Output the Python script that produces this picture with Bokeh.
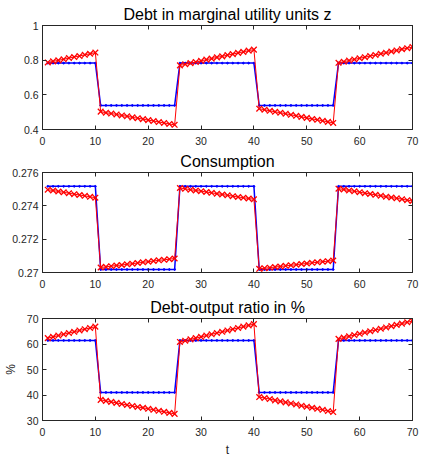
from bokeh.plotting import figure
from bokeh.layouts import column
from bokeh.models import FixedTicker, CustomJSTickFormatter, Range1d, LinearAxis
from bokeh.embed import file_html
from bokeh.resources import INLINE

t = list(range(1, 71))

# Debt in marginal utility units z
z_blue = [0.783] * 10 + [0.539] * 15 + [0.783] * 15 + [0.539] * 15 + [0.783] * 15
z_red = [0.787, 0.793, 0.799, 0.805, 0.812, 0.818, 0.824, 0.831, 0.837, 0.844,
         0.503, 0.497, 0.492, 0.487, 0.481, 0.476, 0.470, 0.465, 0.460, 0.454,
         0.449, 0.443, 0.438, 0.432, 0.427,
         0.770, 0.776, 0.783, 0.789, 0.796, 0.803, 0.809, 0.816, 0.822, 0.829,
         0.835, 0.842, 0.848, 0.855, 0.861,
         0.520, 0.514, 0.508, 0.502, 0.497, 0.491, 0.485, 0.479, 0.473, 0.467,
         0.461, 0.456, 0.450, 0.444, 0.438,
         0.785, 0.791, 0.798, 0.804, 0.811, 0.817, 0.824, 0.830, 0.837, 0.843,
         0.850, 0.856, 0.863, 0.869, 0.876]

# Consumption
c_blue = [0.27517] * 10 + [0.27018] * 15 + [0.27517] * 15 + [0.27018] * 15 + [0.27517] * 15
c_red = [0.27497, 0.27492, 0.27486, 0.27481, 0.27476, 0.27470, 0.27465, 0.27460, 0.27454, 0.27449,
         0.27030, 0.27034, 0.27038, 0.27042, 0.27045, 0.27049, 0.27053, 0.27057, 0.27061, 0.27065,
         0.27069, 0.27073, 0.27076, 0.27080, 0.27084,
         0.27507, 0.27502, 0.27497, 0.27492, 0.27488, 0.27483, 0.27478, 0.27473, 0.27468, 0.27463,
         0.27458, 0.27453, 0.27449, 0.27444, 0.27439,
         0.27022, 0.27026, 0.27029, 0.27033, 0.27036, 0.27040, 0.27043, 0.27047, 0.27051, 0.27054,
         0.27058, 0.27061, 0.27065, 0.27068, 0.27072,
         0.27503, 0.27498, 0.27492, 0.27487, 0.27482, 0.27476, 0.27471, 0.27466, 0.27461, 0.27455,
         0.27450, 0.27445, 0.27440, 0.27434, 0.27429]

# Debt-output ratio in %
d_blue = [61.4] * 10 + [41.0] * 15 + [61.4] * 15 + [41.0] * 15 + [61.4] * 15
d_red = [62.3, 62.8, 63.3, 63.8, 64.3, 64.8, 65.3, 65.8, 66.3, 66.8,
         38.1, 37.7, 37.3, 36.9, 36.5, 36.1, 35.7, 35.3, 35.0, 34.6,
         34.2, 33.8, 33.4, 33.0, 32.6,
         60.8, 61.3, 61.8, 62.3, 62.8, 63.3, 63.8, 64.3, 64.8, 65.3,
         65.8, 66.3, 66.8, 67.3, 67.8,
         39.2, 38.8, 38.4, 37.9, 37.5, 37.1, 36.7, 36.3, 35.8, 35.4,
         35.0, 34.6, 34.2, 33.7, 33.3,
         62.0, 62.5, 63.0, 63.5, 64.0, 64.5, 65.0, 65.5, 66.0, 66.5,
         67.0, 67.5, 68.0, 68.5, 69.0]

x_ticks = [0, 10, 20, 30, 40, 50, 60, 70]
z_ticks = [0.4, 0.6, 0.8, 1]
c_ticks = [0.27, 0.272, 0.274, 0.276]
d_ticks = [30, 40, 50, 60, 70]

FONT = "Liberation Sans"
AX = "#262626"
fmt_js = "return tick.toString();"


def style_axis(ax, ticks, labels=True):
    ax.ticker = FixedTicker(ticks=ticks)
    ax.axis_line_color = AX
    ax.major_tick_line_color = AX
    ax.major_tick_in = 4
    ax.major_tick_out = 0
    ax.minor_tick_line_color = None
    ax.major_label_text_font = FONT
    ax.major_label_text_color = AX
    if labels:
        ax.major_label_text_font_size = "10.5px"
        ax.formatter = CustomJSTickFormatter(code=fmt_js)
    else:
        ax.major_label_text_font_size = "0px"
        ax.major_label_standoff = 0
        ax.formatter = CustomJSTickFormatter(code="return '';")


def make(title, yb, yr, yrange, yticks, h, top, bottom, xlabel=None, ylabel=None):
    xa = LinearAxis()
    ya = LinearAxis()
    p = figure(width=421, height=h, x_range=Range1d(0, 70), y_range=Range1d(*yrange),
               toolbar_location=None, output_backend="svg",
               x_axis_location=None, y_axis_location=None,
               min_border_left=42, min_border_right=9,
               min_border_top=top, min_border_bottom=bottom)
    p.title.text = title
    p.title.align = "center"
    p.title.text_font = FONT
    p.title.text_font_size = "16px"
    p.title.text_font_style = "normal"
    p.title.text_color = "#000000"
    p.title.standoff = 5
    p.outline_line_color = AX
    p.outline_line_alpha = 1
    p.grid.visible = False
    p.background_fill_color = "white"
    p.border_fill_color = "white"
    style_axis(xa, x_ticks)
    style_axis(ya, yticks)
    xa.major_label_standoff = 7
    ya.major_label_standoff = 4
    if xlabel:
        xa.axis_label = xlabel
        xa.axis_label_text_font = FONT
        xa.axis_label_text_font_size = "12px"
        xa.axis_label_text_font_style = "normal"
        xa.axis_label_text_color = AX
        xa.axis_label_standoff = 4
    if ylabel:
        ya.axis_label = ylabel
        ya.axis_label_text_font = FONT
        ya.axis_label_text_font_size = "12px"
        ya.axis_label_text_font_style = "normal"
        ya.axis_label_text_color = AX
        ya.axis_label_standoff = 6
    p.add_layout(xa, "below")
    p.add_layout(ya, "left")
    ra = LinearAxis()
    style_axis(ra, yticks, labels=False)
    p.add_layout(ra, "right")
    ta = LinearAxis()
    style_axis(ta, x_ticks, labels=False)
    p.add_layout(ta, "above")
    p.line(t, yb, line_color="#0000FF", line_width=1.5)
    p.scatter(t, yb, marker="circle", size=1.8, fill_color="#0000FF", line_color="#0000FF")
    p.line(t, yr, line_color="#FF0000", line_width=1)
    p.scatter(t, yr, marker="x", size=8, line_color="#FF0000", line_width=1.3)
    return p


p1 = make("Debt in marginal utility units z", z_blue, z_red, (0.4, 1), z_ticks, 147, 25, 17)
p2 = make("Consumption", c_blue, c_red, (0.27, 0.276), c_ticks, 143, 25, 15)
p3 = make("Debt-output ratio in %", d_blue, d_red, (30, 70), d_ticks, 169, 28, 36,
          xlabel="t", ylabel="%")

layout = column(p1, p2, p3, spacing=0)
open("out.html", "w").write(file_html(layout, INLINE))
